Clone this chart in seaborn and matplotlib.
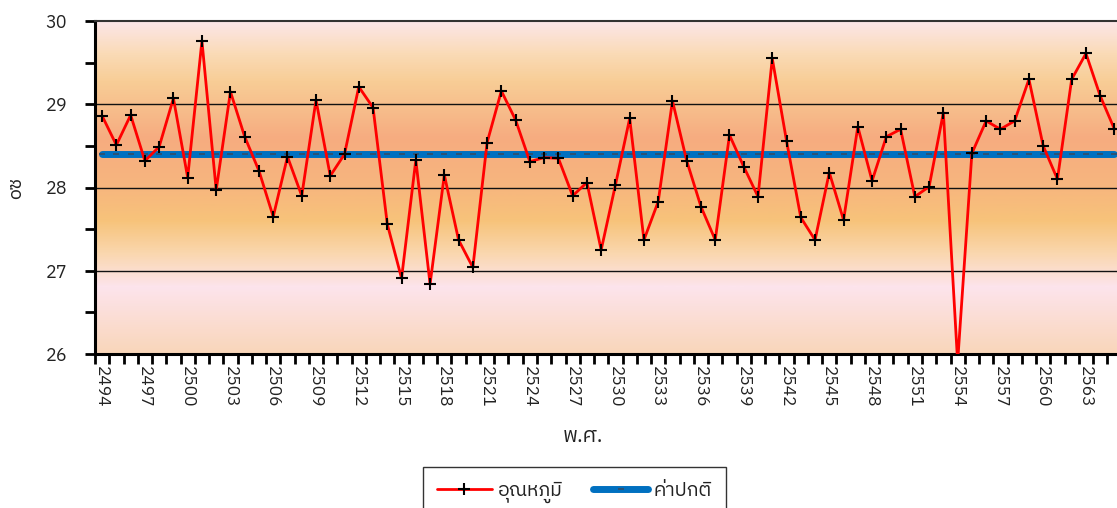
import numpy as np
import pandas as pd
import matplotlib
matplotlib.use("Agg")
import matplotlib.pyplot as plt
import seaborn as sns
from matplotlib import font_manager
from matplotlib.ft2font import FT2Font
from matplotlib.colors import LinearSegmentedColormap
from matplotlib.lines import Line2D

# ---------------- data ----------------
years = list(range(2494, 2566))
temperature = [
    28.86, 28.51, 28.87, 28.32, 28.49, 29.07, 28.12, 29.76, 27.97, 29.15,
    28.61, 28.20, 27.65, 28.37, 27.90, 29.05, 28.14, 28.40, 29.21, 28.96,
    27.56, 26.91, 28.33, 26.84, 28.15, 27.37, 27.04, 28.54, 29.16, 28.81,
    28.31, 28.36, 28.35, 27.90, 28.06, 27.25, 28.03, 28.83, 27.37, 27.83,
    29.04, 28.32, 27.77, 27.37, 28.63, 28.25, 27.89, 29.55, 28.56, 27.64,
    27.37, 28.18, 27.61, 28.73, 28.08, 28.61, 28.70, 27.89, 28.01, 28.90,
    25.90, 28.41, 28.80, 28.70, 28.80, 29.30, 28.50, 28.10, 29.30, 29.61,
    29.10, 28.70,
]
normal_value = 28.40
normal = [normal_value] * len(years)
label_years = list(range(2494, 2566, 3))
series_names = ["อุณหภูมิ", "ค่าปกติ"]
x_title = "พ.ศ."
y_title = "oซ"

df = pd.DataFrame({"year": years, "temp": temperature, "normal": normal})

# ---------------- fonts ----------------
def find_thai_font():
    preferred = []
    others = []
    for f in font_manager.fontManager.ttflist:
        try:
            cmap = FT2Font(f.fname).get_charmap()
        except Exception:
            continue
        if 0x0E2D in cmap and 0x0E38 in cmap and 0x0E0D in cmap:
            if "Sans" in f.name or "Thai" in f.name:
                preferred.append(f.name)
            else:
                others.append(f.name)
    lst = preferred + others
    return lst[0] if lst else None

sns.set_style("ticks")
thai = find_thai_font()
fam = ([thai] if thai else []) + ["DejaVu Sans"]
plt.rcParams["font.family"] = fam

# ---------------- figure ----------------
fig = plt.figure(figsize=(11.17, 5.08), dpi=100)
ax = fig.add_axes([95 / 1117, 1 - 354 / 508, (1121.6 - 95) / 1117, (354 - 21) / 508])

# background gradient
stops = [
    (0.00, (249, 214, 186)),   # 26.0
    (0.20, (253, 228, 236)),   # 26.8
    (0.30, (250, 215, 175)),   # 27.2
    (0.40, (247, 195, 122)),   # 27.6
    (0.50, (247, 182, 126)),   # 28.0
    (0.65, (246, 172, 128)),   # 28.6
    (0.82, (248, 205, 150)),   # 29.3
    (0.90, (250, 218, 180)),   # 29.6
    (1.00, (252, 230, 232)),   # 30.0
]
cmap = LinearSegmentedColormap.from_list(
    "bg", [(p, tuple(c / 255 for c in rgb)) for p, rgb in stops])
grad = np.linspace(0, 1, 400).reshape(-1, 1)
ax.imshow(grad, cmap=cmap, aspect="auto", origin="lower",
          extent=(0, 1, 0, 1), transform=ax.transAxes, zorder=0)

for g in (27, 28, 29):
    ax.axhline(g, color="#111111", lw=1.0, zorder=1)

sns.lineplot(data=df, x="year", y="normal", ax=ax, color="#0070C0", lw=5,
             marker="_", markersize=4, markeredgewidth=1.3,
             markeredgecolor="#2F4F6F", zorder=3, solid_capstyle="round")
sns.lineplot(data=df, x="year", y="temp", ax=ax, color="#FF0000", lw=2,
             marker="+", markersize=9, markeredgewidth=1.5,
             markeredgecolor="black", markerfacecolor="black", zorder=4)

ax.set_xlim(2493.5, 2565.5)
ax.set_ylim(26, 30)

# x ticks: marks at category boundaries, labels on categories
ax.set_xticks(label_years)
ax.set_xticklabels([str(y) for y in label_years], rotation=-90, fontsize=12.5,
                   color="#222222")
ax.set_xticks(np.arange(2493.5, 2566, 1), minor=True)
ax.tick_params(axis="x", which="major", length=0, pad=9)
ax.tick_params(axis="x", which="minor", length=7, width=2, color="black",
               direction="out")

ax.set_yticks([26, 27, 28, 29, 30])
ax.set_yticklabels(["26", "27", "28", "29", "30"], fontsize=13, color="#222222")
ax.set_yticks(np.arange(26.5, 30, 1), minor=True)
ax.tick_params(axis="y", which="both", length=7, width=2, color="black",
               direction="out", pad=13)

for side in ("left", "bottom"):
    ax.spines[side].set_linewidth(2.2)
    ax.spines[side].set_color("black")
ax.spines["top"].set_visible(True)
ax.spines["top"].set_linewidth(1.5)
ax.spines["top"].set_color("#333333")
ax.spines["right"].set_visible(False)

ax.set_xlabel("")
ax.set_ylabel("")
fig.text(583 / 1117, 1 - 437 / 508, x_title, ha="center", va="center",
         fontsize=15, color="#222222")
fig.text(16 / 1117, 1 - 188 / 508, y_title, ha="center", va="center",
         rotation=90, fontsize=14, color="#222222")

handles = [
    Line2D([], [], color="#FF0000", lw=2, marker="+", markersize=9,
           markeredgewidth=1.5, markeredgecolor="black"),
    Line2D([], [], color="#0070C0", lw=5, marker="_", markersize=4,
           markeredgewidth=1.3, markeredgecolor="#2F4F6F",
           solid_capstyle="round"),
]
leg = fig.legend(handles, series_names, loc="upper center", ncol=2,
                 bbox_to_anchor=(574.5 / 1117, 1 - 467 / 508),
                 frameon=True, fancybox=False, edgecolor="#333333",
                 framealpha=1, fontsize=14, handlelength=2.8,
                 handletextpad=0.3, columnspacing=1.6, borderpad=0.75,
                 borderaxespad=0)
leg.get_frame().set_linewidth(1.0)
for t in leg.get_texts():
    t.set_color("#222222")

fig.savefig("out.png", dpi=100)
